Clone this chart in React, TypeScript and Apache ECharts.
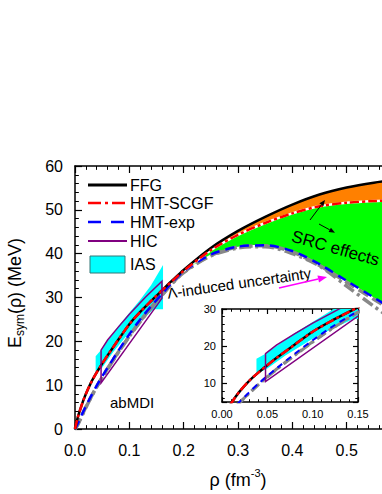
import React, { useEffect, useRef } from 'react';
import * as echarts from 'echarts';

const FONT = "'Liberation Sans', Arial, Helvetica, sans-serif";

// density grid (fm^-3)
const rho = [0, 0.005, 0.01, 0.015, 0.02, 0.03, 0.04, 0.05, 0.06, 0.08, 0.1, 0.12, 0.14, 0.16, 0.18, 0.2, 0.25, 0.3, 0.35, 0.4, 0.45, 0.5, 0.55, 0.6];
// symmetry energies (MeV)
const ffg = [0, 2.6, 4.6, 6.4, 8.0, 10.7, 12.9, 14.9, 16.8, 20.4, 23.9, 26.7, 29.2, 31.6, 34.0, 36.3, 41.3, 45.2, 48.4, 51.2, 53.5, 55.1, 56.2, 57.0];
const hmtScgf = [0, 2.6, 4.6, 6.4, 8.0, 10.7, 12.9, 14.9, 16.8, 20.4, 23.9, 26.7, 29.2, 31.6, 33.9, 36.1, 40.8, 44.3, 47.0, 49.2, 50.8, 51.6, 52.0, 52.2];
const hmtExp = [0, 1.2, 2.6, 3.9, 5.2, 7.6, 9.9, 12.0, 14.0, 17.9, 21.6, 25.0, 28.0, 30.8, 33.6, 36.0, 39.8, 41.6, 41.9, 40.6, 37.6, 33.8, 30.0, 26.2];
const lamUpper = [0, 1.0, 2.4, 3.7, 5.0, 7.4, 9.7, 11.8, 13.8, 17.6, 21.2, 24.6, 27.7, 30.6, 33.4, 35.8, 39.6, 41.5, 41.8, 40.4, 37.3, 33.5, 29.6, 25.8];
const lamLower = [0, 1.0, 2.3, 3.6, 4.9, 7.3, 9.6, 11.7, 13.7, 17.5, 21.1, 24.5, 27.6, 30.5, 33.3, 35.7, 39.5, 41.3, 41.6, 40.0, 37.2, 32.6, 28.0, 23.6];
// band starts (index into rho)
const orangeFrom = 13;
const greenFrom = 15;

// IAS constraint polygon
const iasRho = [0.038, 0.038, 0.048, 0.08, 0.12, 0.14, 0.162, 0.162, 0.145, 0.12, 0.1, 0.07, 0.05];
const iasE = [12.5, 16.6, 18.0, 23.5, 29.5, 32.8, 37.4, 27.3, 27.3, 24.5, 22.0, 17.5, 14.0];
// HIC constraint polygon
const hicRho = [0.048, 0.06, 0.08, 0.1, 0.13, 0.16, 0.16, 0.048, 0.048];
const hicE = [18.0, 20.3, 23.3, 26.2, 30.1, 33.7, 29.8, 10.5, 18.0];

const legendNames = ['FFG', 'HMT-SCGF', 'HMT-exp', 'HIC', 'IAS'];

const pairs = (ys: number[], from = 0) => rho.slice(from).map((x, i) => [x, ys[i + from]]);

function lineSeries(ys: number[], color: string, width: number, dash: any, xi: number, yi: number, z: number, from = 0) {
  return {
    type: 'line', xAxisIndex: xi, yAxisIndex: yi, data: pairs(ys, from),
    showSymbol: false, symbol: 'none', smooth: 0.3, silent: true, z,
    lineStyle: { color, width, type: dash, cap: 'butt' },
  };
}

function polygonSeries(xs: number[], ys: number[], style: any, xi: number, yi: number, z: number, smooth = 0) {
  return {
    type: 'custom', xAxisIndex: xi, yAxisIndex: yi, clip: true, silent: true, z,
    data: [[xs[0], ys[0]]],
    renderItem: (params: any, api: any) => ({
      type: 'polygon',
      shape: { points: xs.map((x, i) => api.coord([x, ys[i]])), smooth },
      style,
    }),
  };
}

function bandSeries(upper: number[], lower: number[], from: number, color: string) {
  const xs = [...rho.slice(from), ...rho.slice(from).reverse()];
  const ys = [...upper.slice(from), ...lower.slice(from).reverse()];
  return polygonSeries(xs, ys, { fill: color }, 0, 0, 1, 0.3);
}

const tickStyle = { color: '#000', width: 1.2 };
function valueAxis(extra: any, showLabel: boolean, labelSize: number, margin: number, fmt: (v: number) => string, tickLen: number) {
  return {
    type: 'value',
    axisLine: { show: true, onZero: false, lineStyle: { color: '#000', width: 1.5 } },
    axisTick: { show: true, inside: true, length: tickLen, lineStyle: tickStyle },
    minorTick: { show: true, splitNumber: 5, length: tickLen * 0.55, lineStyle: { color: '#000', width: 1 } },
    splitLine: { show: false },
    axisLabel: { show: showLabel, fontSize: labelSize, fontFamily: FONT, color: '#000', margin, formatter: fmt },
    ...extra,
  };
}

function arrow(x1: number, y1: number, x2: number, y2: number, color: string, width: number, len: number, half: number) {
  const a = Math.atan2(y2 - y1, x2 - x1);
  const bx = x2 - len * Math.cos(a);
  const by = y2 - len * Math.sin(a);
  return [
    { type: 'line', z: 100, shape: { x1, y1, x2: bx, y2: by }, style: { stroke: color, lineWidth: width } },
    {
      type: 'polygon', z: 100,
      shape: { points: [[x2, y2], [bx + half * Math.sin(a), by - half * Math.cos(a)], [bx - half * Math.sin(a), by + half * Math.cos(a)]] },
      style: { fill: color },
    },
  ];
}

const legendY = [185, 203, 222, 241, 264];

export default function App() {
  const ref = useRef<HTMLDivElement>(null);
  useEffect(() => {
    if (!ref.current) return;
    const chart = echarts.init(ref.current, null, { renderer: 'svg' });
    const txt = (text: string, x: number, y: number, size: number, extra: any = {}, rotation = 0) => ({
      type: 'text', x, y, z: 100, rotation,
      style: { text, fontSize: size, fontFamily: FONT, fill: '#000', align: 'left', verticalAlign: 'middle', ...extra },
    });
    const graphic: any[] = [
      // axis titles
      {
        type: 'text', x: 15, y: 293, rotation: Math.PI / 2, z: 100,
        style: {
          text: '{a|E}{b|sym}{a|(ρ) (MeV)}', align: 'center', verticalAlign: 'middle',
          rich: {
            a: { fontSize: 18, fontFamily: FONT, fill: '#000', lineHeight: 22 },
            b: { fontSize: 12, fontFamily: FONT, fill: '#000', lineHeight: 10, verticalAlign: 'bottom' },
          },
        },
      },
      {
        type: 'text', x: 238, y: 478, z: 100,
        style: {
          text: '{a|ρ (fm}{s|-3}{a|)}', align: 'center', verticalAlign: 'middle',
          rich: {
            a: { fontSize: 18, fontFamily: FONT, fill: '#000', lineHeight: 22, verticalAlign: 'bottom' },
            s: { fontSize: 11, fontFamily: FONT, fill: '#000', lineHeight: 12, verticalAlign: 'top' },
          },
        },
      },
      // legend
      { type: 'line', z: 100, shape: { x1: 88, y1: legendY[0], x2: 127, y2: legendY[0] }, style: { stroke: '#000', lineWidth: 3 } },
      { type: 'line', z: 100, shape: { x1: 88, y1: legendY[1], x2: 127, y2: legendY[1] }, style: { stroke: '#ff0000', lineWidth: 2.5, lineDash: [13, 4, 3, 4] } },
      { type: 'line', z: 100, shape: { x1: 88, y1: legendY[2], x2: 127, y2: legendY[2] }, style: { stroke: '#0000ff', lineWidth: 2.5, lineDash: [13, 10] } },
      { type: 'line', z: 100, shape: { x1: 88, y1: legendY[3], x2: 127, y2: legendY[3] }, style: { stroke: '#800080', lineWidth: 2 } },
      { type: 'rect', z: 100, shape: { x: 90, y: 256, width: 35, height: 17 }, style: { fill: '#00ffff', stroke: '#337777', lineWidth: 1 } },
      ...legendNames.map((n, i) => txt(n, 130, legendY[i], 16)),
      // annotations
      txt('abMDI', 110, 402, 15),
      txt('Λ-induced uncertainty', 239, 283, 15, { align: 'center' }, 0.142),
      txt('SRC effects', 292, 236, 17, {}, -0.275),
      ...arrow(310, 220, 325, 200, '#000', 1, 6, 2.5),
      ...arrow(319, 224, 335, 232.7, '#000', 1, 6, 2.5),
      ...arrow(279, 288, 327, 277, '#ff00ff', 1.5, 9, 3.5),
    ];

    const series: any[] = [
      bandSeries(ffg, hmtScgf, orangeFrom, '#ff8000'),
      bandSeries(hmtScgf, hmtExp, greenFrom, '#00ff00'),
      polygonSeries(iasRho, iasE, { fill: '#00ffff' }, 0, 0, 2),
      lineSeries(lamLower, '#888888', 3.5, [12, 4, 3, 4], 0, 0, 3),
      lineSeries(lamUpper, '#888888', 3.5, [11, 5], 0, 0, 3),
      lineSeries(hmtExp, '#0000ff', 2.5, [9, 6], 0, 0, 4),
      lineSeries(hmtScgf, '#ffffff', 2.5, 'solid', 0, 0, 4, greenFrom),
      lineSeries(ffg, '#000000', 2.5, 'solid', 0, 0, 5),
      lineSeries(hmtScgf, '#ff0000', 2.5, [9, 3, 3, 3], 0, 0, 6),
      polygonSeries(hicRho, hicE, { fill: 'none', stroke: '#800080', lineWidth: 1.5 }, 0, 0, 7),
      // inset
      polygonSeries(iasRho, iasE, { fill: '#00ffff' }, 2, 1, 2),
      lineSeries(lamLower, '#888888', 3, [10, 4, 3, 4], 2, 1, 3),
      lineSeries(lamUpper, '#888888', 3, [9, 5], 2, 1, 3),
      lineSeries(hmtExp, '#0000ff', 2, [6, 5], 2, 1, 4),
      lineSeries(ffg, '#000000', 2.5, 'solid', 2, 1, 5),
      lineSeries(hmtScgf, '#ff0000', 2.5, [9, 3, 3, 3], 2, 1, 6),
      polygonSeries(hicRho, hicE, { fill: 'none', stroke: '#800080', lineWidth: 1.5 }, 2, 1, 7),
    ];

    const f1 = (v: number) => (v > 0.55 ? '' : v.toFixed(1));
    const f2 = (v: number) => v.toFixed(2);
    const fi = (v: number) => String(v);
    const fInsetY = (v: number) => (v % 10 === 0 ? String(v) : '');

    chart.setOption({
      animation: false,
      textStyle: { fontFamily: FONT },
      grid: [
        { left: 75, top: 166, width: 326, height: 263, outerBoundsMode: 'none', containLabel: false },
        { left: 222, top: 309, width: 136, height: 93, outerBoundsMode: 'none', containLabel: false, show: true, backgroundColor: '#ffffff', borderWidth: 0, z: 0 },
      ],
      xAxis: [
        valueAxis({ gridIndex: 0, min: 0, max: 0.6, interval: 0.1, position: 'bottom' }, true, 16, 13, f1, 7),
        valueAxis({ gridIndex: 0, min: 0, max: 0.6, interval: 0.1, position: 'top' }, false, 16, 8, f1, 7),
        valueAxis({ gridIndex: 1, min: 0, max: 0.15, interval: 0.05, position: 'bottom' }, true, 11, 6, f2, 5),
        valueAxis({ gridIndex: 1, min: 0, max: 0.15, interval: 0.05, position: 'top' }, false, 11, 6, f2, 5),
      ],
      yAxis: [
        valueAxis({ gridIndex: 0, min: 0, max: 60, interval: 10, position: 'left' }, true, 16, 12, fi, 7),
        valueAxis({ gridIndex: 1, min: 5, max: 30, minInterval: 10, maxInterval: 10, position: 'left' }, true, 11, 6, fInsetY, 5),
        valueAxis({ gridIndex: 1, min: 5, max: 30, minInterval: 10, maxInterval: 10, position: 'right' }, false, 11, 6, fInsetY, 5),
      ],
      series,
      graphic: { elements: graphic },
    });
    return () => chart.dispose();
  }, []);
  return (
    <div
      ref={ref}
      style={{ position: 'absolute', left: 0, top: 0, width: 382, height: 494, background: '#fff' }}
    />
  );
}
